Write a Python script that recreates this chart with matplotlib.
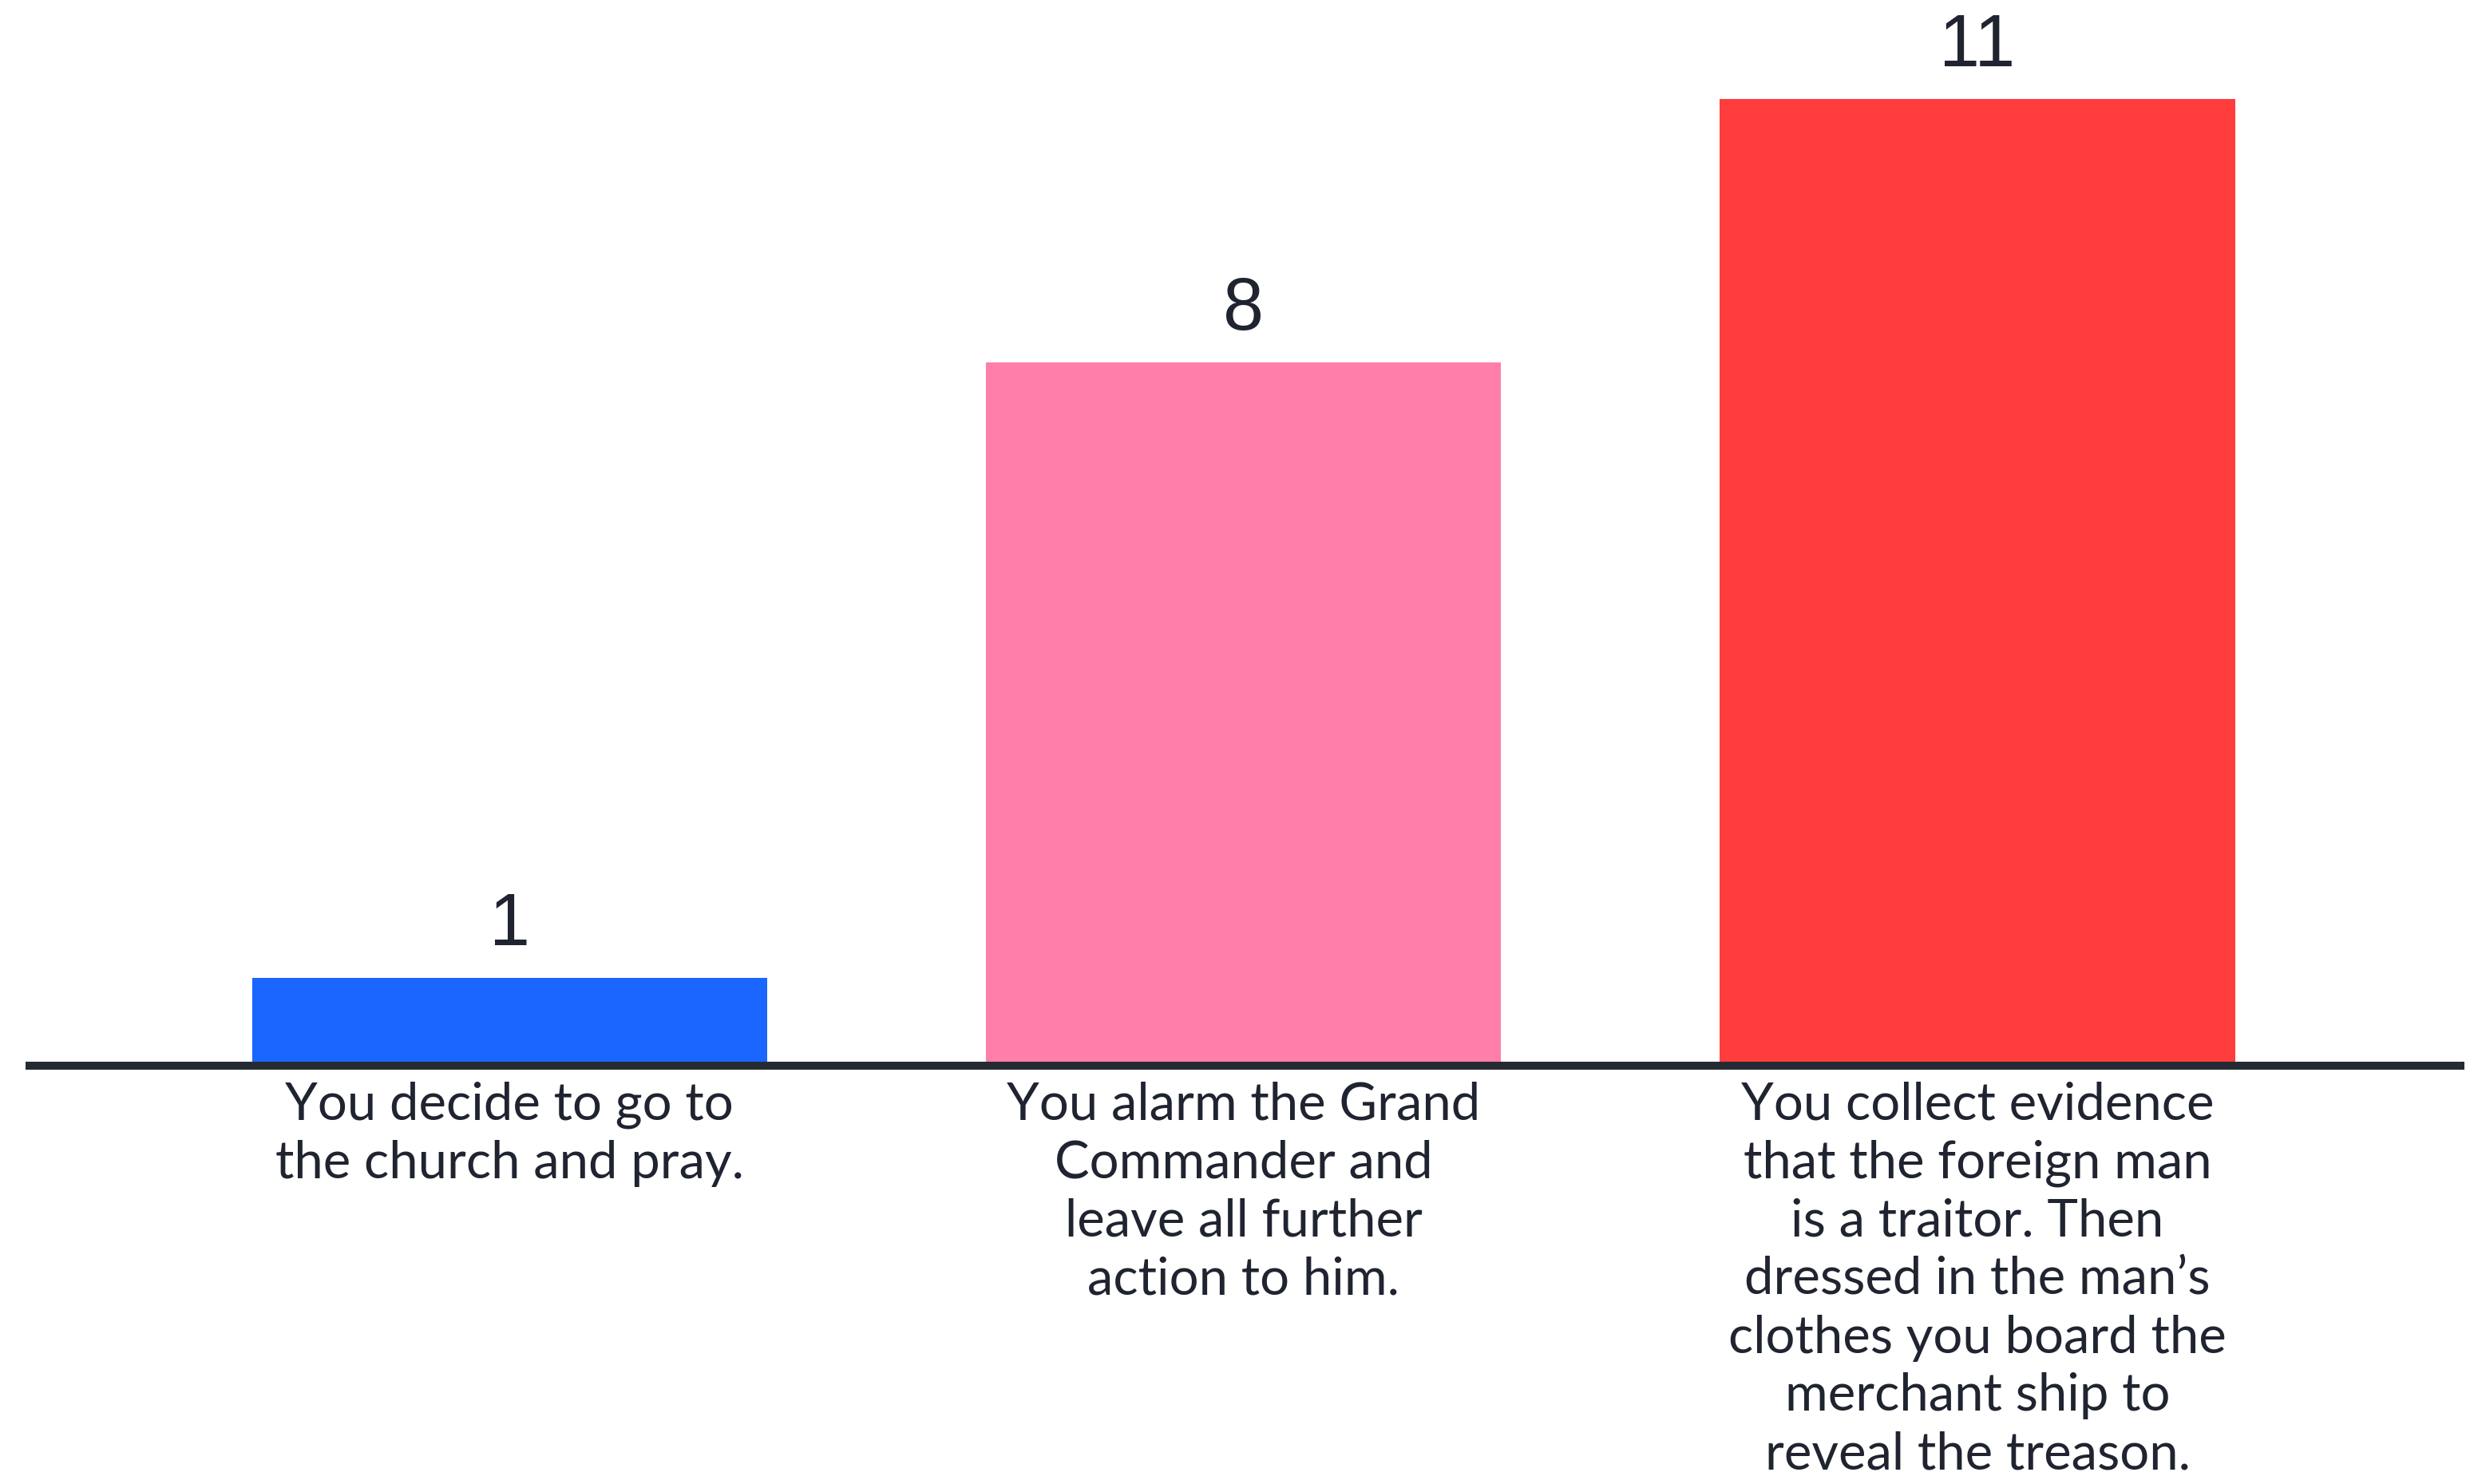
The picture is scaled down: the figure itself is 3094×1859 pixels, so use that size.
import matplotlib
matplotlib.use("Agg")
import matplotlib.pyplot as plt

categories = [
    "You decide to go to\nthe church and pray.",
    "You alarm the Grand\nCommander and\nleave all further\naction to him.",
    "You collect evidence\nthat the foreign man\nis a traitor. Then\ndressed in the man\u2019s\nclothes you board the\nmerchant ship to\nreveal the treason.",
]
values = [1, 8, 11]
colors = ["#1a66ff", "#ff7eaa", "#ff3d3d"]

W, H = 3094, 1859
fig = plt.figure(figsize=(W / 100, H / 100), dpi=100)
fig.patch.set_facecolor("white")

base_px = 1335
top_px = 124
ax = fig.add_axes([0, 1 - base_px / H, 1, (base_px - top_px) / H])
ax.set_facecolor("none")

x = list(range(len(values)))
ax.bar(x, values, width=0.702, color=colors, zorder=1)
ax.set_xlim(-0.654 - 37 / 919, 2.658 + 12 / 919)
ax.set_ylim(0, 11)

for s in ["top", "right", "left"]:
    ax.spines[s].set_visible(False)
ax.spines["bottom"].set_linewidth(7.2)
ax.spines["bottom"].set_color("#262b33")
ax.spines["bottom"].set_bounds(-0.654, 2.658)
ax.spines["bottom"].set_zorder(3)
ax.set_yticks([])
ax.set_xticks([])

for xi, v in zip(x, values):
    ax.annotate(str(v), (xi, v), xytext=(0, 16), textcoords="offset points",
                ha="center", va="bottom", fontsize=66, family="Liberation Sans",
                color="#1f2430")

tr = ax.get_xaxis_transform()
for xi, lab in zip(x, categories):
    ax.text(xi, -0.016, lab, transform=tr, ha="center", va="top",
            fontsize=47, family="Lato", color="#1f2430", linespacing=1.29)

fig.savefig("out.png", dpi=100)
